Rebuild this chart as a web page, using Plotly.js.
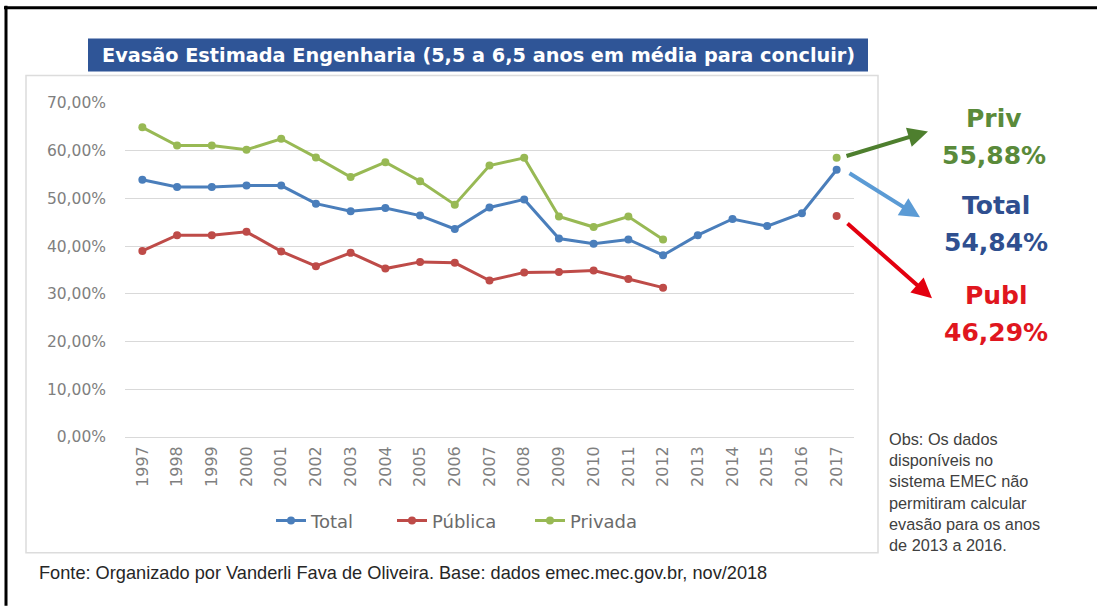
<!DOCTYPE html>
<html>
<head>
<meta charset="utf-8">
<script src="https://cdn.plot.ly/plotly-3.0.1.min.js"></script>
<style>
html,body{margin:0;padding:0;background:#fff;}
#chart{width:1097px;height:606px;}
</style>
</head>
<body>
<div id="chart"></div>
<script>
// ---- data ----
const years = ["1997","1998","1999","2000","2001","2002","2003","2004","2005","2006","2007","2008","2009","2010","2011","2012","2013","2014","2015","2016","2017"];
const total = [53.9,52.4,52.4,52.7,52.7,48.9,47.3,48.0,46.4,43.6,48.1,49.8,41.6,40.5,41.4,38.1,42.3,45.7,44.2,46.9,56.0];
const publica = [39.0,42.3,42.3,43.0,38.9,35.8,38.6,35.3,36.7,36.5,32.8,34.5,34.6,34.9,33.1,31.3,null,null,null,null,46.3];
const privada = [64.9,61.1,61.1,60.2,62.5,58.6,54.5,57.6,53.6,48.7,56.9,58.5,46.2,44.0,46.2,41.4,null,null,null,null,58.5];
const seriesNames = ["Total","Pública","Privada"];
const yTicks = [0,10,20,30,40,50,60,70];
const yTickLabels = ["0,00%","10,00%","20,00%","30,00%","40,00%","50,00%","60,00%","70,00%"];
const titleText = "Evasão Estimada Engenharia (5,5 a 6,5 anos em média para concluir)";
const calloutLabels = ["Priv","Total","Publ"];
const calloutValues = ["55,88%","54,84%","46,29%"];
const obsText = "Obs: Os dados<br>disponíveis no<br>sistema EMEC não<br>permitiram calcular<br>evasão para os anos<br>de 2013 a 2016.";
const sourceText = "Fonte: Organizado por Vanderli Fava de Oliveira. Base: dados emec.mec.gov.br, nov/2018";

// ---- layout geometry (pixels) ----
const W = 1097, H = 606;
const L = 125, R = 854, T = 102.5, B = 437;
const px = x => (x - L) / (R - L);
const py = y => (B - y) / (B - T);

const colors = ["#4A7EBB", "#BE4B48", "#98B954"];
const legendIds = ["legend", "legend2", "legend3"];
const legendX = [271, 392, 530];

const mk = (i, y) => ({
  type: "scatter", mode: "lines+markers", name: seriesNames[i],
  x: years, y: y, connectgaps: false, legend: legendIds[i],
  line: {color: colors[i], width: 3},
  marker: {color: colors[i], size: 8},
  hoverinfo: "skip"
});

const data = [mk(0, total), mk(1, publica), mk(2, privada)];

const shapes = [
  {type:"line", xref:"paper", yref:"paper", x0:px(4), x1:px(1097), y0:py(7), y1:py(7), line:{color:"#000", width:3}},
  {type:"line", xref:"paper", yref:"paper", x0:px(6), x1:px(6), y0:py(5), y1:py(606), line:{color:"#000", width:3}},
  {type:"rect", xref:"paper", yref:"paper", x0:px(26), x1:px(878), y0:py(75), y1:py(553), line:{color:"#DCDCDC", width:1.5}},
  {type:"rect", xref:"paper", yref:"paper", x0:px(88), x1:px(868), y0:py(38), y1:py(71), fillcolor:"#2F5597", line:{width:0}}
];

const ann = [];
ann.push({xref:"paper", yref:"paper", x:px(478), y:py(54.5), text:titleText, showarrow:false,
  xanchor:"center", yanchor:"middle", font:{family:"DejaVu Sans", size:19.3, color:"#fff", weight:"bold"}});

const arrows = [
  {hx:928, hy:131, tx:845, ty:156, c:"#4E7F2E"},
  {hx:920, hy:217, tx:848, ty:172, c:"#5B9BD5"},
  {hx:932, hy:298, tx:846, ty:222, c:"#E3000F"}
];
arrows.forEach(a => ann.push({xref:"paper", yref:"paper", x:px(a.hx), y:py(a.hy),
  ax:a.tx - a.hx, ay:a.ty - a.hy, showarrow:true, arrowhead:2, arrowsize:1, arrowwidth:4,
  arrowcolor:a.c, text:""}));

const labelColors = ["#5A8A3A", "#2F4F8F", "#E0161E"];
const labelPos = [[994,118,155],[996,205,242],[996,295,332]];
for (let i=0;i<3;i++){
  ann.push({xref:"paper", yref:"paper", x:px(labelPos[i][0]), y:py(labelPos[i][1]), text:calloutLabels[i], showarrow:false,
    xanchor:"center", yanchor:"middle", font:{family:"DejaVu Sans", size:25, color:labelColors[i], weight:"bold"}});
  ann.push({xref:"paper", yref:"paper", x:px(labelPos[i][0]), y:py(labelPos[i][2]), text:calloutValues[i], showarrow:false,
    xanchor:"center", yanchor:"middle", font:{family:"DejaVu Sans", size:25, color:labelColors[i], weight:"bold"}});
}

ann.push({xref:"paper", yref:"paper", x:px(887), y:py(428), text:obsText, showarrow:false, align:"left",
  xanchor:"left", yanchor:"top", font:{family:"Liberation Sans", size:16.3, color:"#404040"}});
ann.push({xref:"paper", yref:"paper", x:px(37), y:py(573), text:sourceText, showarrow:false, align:"left",
  xanchor:"left", yanchor:"middle", font:{family:"Liberation Sans", size:18.2, color:"#262626"}});

const legendStyle = i => ({orientation:"h", x:px(legendX[i]), y:py(521), xanchor:"left", yanchor:"middle",
  bgcolor:"rgba(0,0,0,0)", font:{family:"DejaVu Sans", size:18, color:"#6B6B6B"}});

const layout = {
  width: W, height: H,
  margin: {l:L, r:W-R, t:T, b:H-B, pad:0},
  paper_bgcolor: "#fff", plot_bgcolor: "#fff",
  showlegend: true,
  legend: legendStyle(0), legend2: legendStyle(1), legend3: legendStyle(2),
  xaxis: {type:"category", categoryarray: years, range:[-0.5, 20.5], tickangle:-90, showgrid:false, zeroline:false,
    showline:false, ticks:"", ticklabelstandoff:5, tickfont:{family:"DejaVu Sans", size:16, color:"#7F7F7F"}, fixedrange:true},
  yaxis: {range:[0,70], tickmode:"array", tickvals:yTicks, ticktext:yTickLabels, showgrid:true,
    gridcolor:"#D9D9D9", gridwidth:1, zeroline:true, zerolinecolor:"#D9D9D9", zerolinewidth:1,
    showline:false, ticks:"", ticklabelstandoff:18,
    tickfont:{family:"DejaVu Sans", size:15.5, color:"#7F7F7F"}, fixedrange:true},
  shapes: shapes,
  annotations: ann
};

Plotly.newPlot("chart", data, layout, {displayModeBar:false, staticPlot:true});
</script>
</body>
</html>
